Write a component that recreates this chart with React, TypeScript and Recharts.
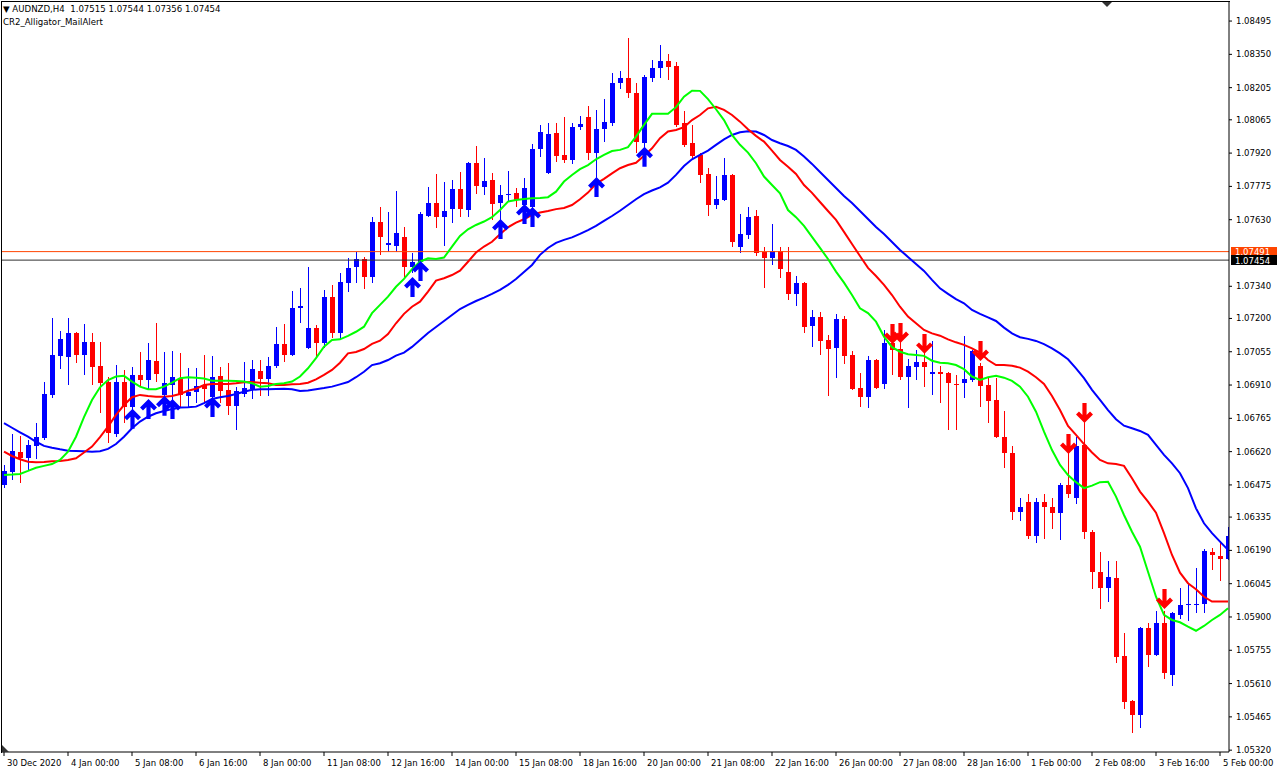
import { Bar, ComposedChart, Line, ReferenceLine, Scatter, XAxis, YAxis } from 'recharts';

/*
 * AUDNZD H4 com o Alligator (CR2_Alligator_MailAlert), estilo MT4.
 * Candles desenhados via Bar com range [low, high] e shape custom.
 */

const FONT = '"DejaVu Sans", sans-serif';
const BULL = '#0000ff';
const BEAR = '#ff0000';

const timeLabels: Array<[number, string]> = [
  [0, '30 Dec 2020'], [8, '4 Jan 00:00'], [16, '5 Jan 08:00'], [24, '6 Jan 16:00'],
  [32, '8 Jan 00:00'], [40, '11 Jan 08:00'], [48, '12 Jan 16:00'], [56, '14 Jan 00:00'],
  [64, '15 Jan 08:00'], [72, '18 Jan 16:00'], [80, '20 Jan 00:00'], [88, '21 Jan 08:00'],
  [96, '22 Jan 16:00'], [104, '26 Jan 00:00'], [112, '27 Jan 08:00'], [120, '28 Jan 16:00'],
  [128, '1 Feb 00:00'], [136, '2 Feb 08:00'], [144, '3 Feb 16:00'], [152, '5 Feb 00:00'],
];

const priceTicks = [
  1.08495, 1.0835, 1.08205, 1.08065, 1.0792, 1.07775, 1.0763, 1.0734, 1.072, 1.07055, 1.0691,
  1.06765, 1.0662, 1.06475, 1.06335, 1.0619, 1.06045, 1.059, 1.05755, 1.0561, 1.05465, 1.0532,
];

// [open, high, low, close]
const candles: Array<[number, number, number, number]> = [
  [1.06475, 1.06562, 1.06462, 1.06536], [1.06531, 1.06697, 1.06497, 1.06623], [1.06618, 1.06688, 1.06484, 1.06592],
  [1.06592, 1.06671, 1.0654, 1.06649], [1.06645, 1.06745, 1.06588, 1.06684], [1.06679, 1.06923, 1.06671, 1.06872],
  [1.06867, 1.07202, 1.06854, 1.07041], [1.07037, 1.07146, 1.0698, 1.07111], [1.07032, 1.07202, 1.0691, 1.07137],
  [1.07137, 1.07141, 1.07006, 1.07041], [1.07041, 1.07176, 1.06954, 1.07097], [1.07097, 1.07137, 1.0691, 1.06989],
  [1.06993, 1.07097, 1.06789, 1.06919], [1.06923, 1.06946, 1.06658, 1.06701], [1.06697, 1.06997, 1.06684, 1.06923],
  [1.06923, 1.06976, 1.06745, 1.06815], [1.06815, 1.06989, 1.06802, 1.06954], [1.06954, 1.07054, 1.06902, 1.06932],
  [1.06932, 1.07093, 1.06889, 1.07019], [1.07015, 1.0718, 1.06923, 1.06959], [1.06867, 1.07054, 1.0678, 1.06919],
  [1.0691, 1.07059, 1.06832, 1.06946], [1.06941, 1.0705, 1.0681, 1.06867], [1.06863, 1.06984, 1.06815, 1.0688],
  [1.0688, 1.06984, 1.06832, 1.06906], [1.0691, 1.07041, 1.06832, 1.06893], [1.06859, 1.07037, 1.06845, 1.06946],
  [1.0695, 1.06989, 1.06832, 1.06885], [1.06889, 1.07006, 1.0678, 1.06819], [1.06819, 1.06902, 1.06714, 1.06885],
  [1.06872, 1.0701, 1.06859, 1.06897], [1.06893, 1.07019, 1.0685, 1.0698], [1.06972, 1.07019, 1.06863, 1.06937],
  [1.06937, 1.07032, 1.06863, 1.06993], [1.06993, 1.07163, 1.06985, 1.07089], [1.07089, 1.07176, 1.0701, 1.07041],
  [1.07041, 1.0732, 1.07035, 1.07246], [1.07246, 1.07333, 1.0718, 1.07255], [1.07071, 1.07424, 1.07065, 1.07158],
  [1.07158, 1.07171, 1.07032, 1.07093], [1.07093, 1.07324, 1.07071, 1.07293], [1.07293, 1.07346, 1.07115, 1.07137],
  [1.07137, 1.07398, 1.07111, 1.07359], [1.07355, 1.07463, 1.07315, 1.0742], [1.07424, 1.07489, 1.07355, 1.07459],
  [1.07459, 1.07468, 1.07329, 1.07381], [1.07381, 1.07642, 1.07355, 1.0762], [1.0762, 1.07686, 1.07476, 1.07555],
  [1.0752, 1.07663, 1.07489, 1.07529], [1.07516, 1.07756, 1.07489, 1.07572], [1.07555, 1.07598, 1.07381, 1.07424],
  [1.07424, 1.07485, 1.07398, 1.07446], [1.07446, 1.07663, 1.07442, 1.07655], [1.07646, 1.07773, 1.07642, 1.07703],
  [1.07703, 1.0783, 1.07594, 1.07642], [1.07642, 1.07794, 1.07516, 1.07668], [1.07677, 1.07803, 1.07616, 1.07764],
  [1.07764, 1.07838, 1.07642, 1.07677], [1.07672, 1.07881, 1.07642, 1.07877], [1.07877, 1.07951, 1.07743, 1.07777],
  [1.07773, 1.07899, 1.07738, 1.07799], [1.07803, 1.07834, 1.07629, 1.07699], [1.07703, 1.07781, 1.07616, 1.07738],
  [1.07738, 1.07843, 1.07707, 1.07742], [1.07747, 1.07768, 1.07686, 1.07716], [1.07694, 1.07812, 1.07637, 1.07768],
  [1.07686, 1.0796, 1.07637, 1.07938], [1.07938, 1.08042, 1.07903, 1.08012], [1.07834, 1.08051, 1.0783, 1.08004],
  [1.08008, 1.08051, 1.07881, 1.07908], [1.07912, 1.08078, 1.07877, 1.0789], [1.0789, 1.08051, 1.07873, 1.08034],
  [1.08034, 1.08082, 1.08021, 1.08047], [1.08078, 1.08126, 1.0789, 1.07921], [1.07921, 1.08108, 1.07812, 1.08025],
  [1.08025, 1.08156, 1.07968, 1.08055], [1.08051, 1.08269, 1.08038, 1.08226], [1.08226, 1.08278, 1.082, 1.08247],
  [1.08247, 1.08421, 1.0816, 1.08182], [1.08182, 1.08226, 1.07921, 1.07968], [1.07964, 1.0826, 1.07934, 1.08252],
  [1.08247, 1.08326, 1.0823, 1.08291], [1.08291, 1.08391, 1.08247, 1.08322], [1.08322, 1.08352, 1.08239, 1.08295],
  [1.083, 1.08317, 1.08034, 1.08042], [1.08051, 1.08104, 1.07946, 1.07955], [1.07964, 1.08042, 1.0789, 1.07908],
  [1.07912, 1.07921, 1.0779, 1.07825], [1.0783, 1.07855, 1.07646, 1.07694], [1.07694, 1.07821, 1.07677, 1.07721],
  [1.07716, 1.07899, 1.07712, 1.07825], [1.07825, 1.07828, 1.07511, 1.07533], [1.07511, 1.07655, 1.07485, 1.07568],
  [1.07563, 1.07686, 1.07546, 1.07642], [1.07646, 1.07672, 1.07472, 1.07485], [1.07489, 1.07511, 1.07333, 1.07463],
  [1.07463, 1.07612, 1.07433, 1.07494], [1.07494, 1.07511, 1.07376, 1.07416], [1.07402, 1.07511, 1.07281, 1.07307],
  [1.07307, 1.07385, 1.07255, 1.07355], [1.07355, 1.07359, 1.07137, 1.07163], [1.07167, 1.07237, 1.07076, 1.07207],
  [1.07207, 1.07228, 1.07041, 1.07102], [1.07106, 1.07128, 1.06863, 1.07067], [1.07071, 1.0722, 1.06941, 1.07198],
  [1.07198, 1.07211, 1.07002, 1.07037], [1.07041, 1.07059, 1.06889, 1.06893], [1.06897, 1.06963, 1.06815, 1.06859],
  [1.06859, 1.07037, 1.0681, 1.07019], [1.07019, 1.07023, 1.06893, 1.06897], [1.06915, 1.0715, 1.06893, 1.07093],
  [1.07093, 1.07115, 1.06954, 1.07063], [1.07067, 1.07137, 1.06932, 1.06946], [1.06946, 1.07024, 1.0681, 1.06993],
  [1.06989, 1.07063, 1.06932, 1.0701], [1.0701, 1.07063, 1.06902, 1.06989], [1.06959, 1.07102, 1.06867, 1.06967],
  [1.06967, 1.06993, 1.06832, 1.06959], [1.06963, 1.06967, 1.06714, 1.06919], [1.06915, 1.06954, 1.06714, 1.0691],
  [1.06919, 1.07124, 1.06854, 1.06937], [1.06932, 1.07063, 1.06923, 1.07059], [1.06993, 1.07006, 1.06815, 1.06906],
  [1.0691, 1.06941, 1.06745, 1.06841], [1.06845, 1.06941, 1.06679, 1.06684], [1.06684, 1.06798, 1.06549, 1.06614],
  [1.06614, 1.06645, 1.06322, 1.06357], [1.06357, 1.06418, 1.06318, 1.0638], [1.06401, 1.06436, 1.0624, 1.06253],
  [1.06253, 1.06418, 1.06222, 1.06401], [1.06401, 1.06436, 1.0624, 1.0638], [1.0638, 1.06418, 1.06283, 1.06353],
  [1.06353, 1.06484, 1.06235, 1.06475], [1.06475, 1.06649, 1.06418, 1.06436], [1.06418, 1.06684, 1.06393, 1.06645],
  [1.06649, 1.06758, 1.0624, 1.0627], [1.0627, 1.06279, 1.06022, 1.06096], [1.06096, 1.06183, 1.05935, 1.06026],
  [1.06026, 1.06144, 1.05965, 1.06075], [1.06071, 1.06144, 1.057, 1.05726], [1.0573, 1.05831, 1.055, 1.0553],
  [1.05535, 1.05539, 1.05395, 1.05473], [1.05473, 1.05857, 1.05417, 1.05853], [1.05853, 1.05874, 1.05683, 1.05734],
  [1.05734, 1.05927, 1.0573, 1.05874], [1.05874, 1.05927, 1.0563, 1.05656], [1.05647, 1.05922, 1.056, 1.05918],
  [1.05909, 1.06026, 1.05891, 1.05952], [1.05952, 1.06048, 1.05883, 1.05957], [1.05952, 1.06114, 1.05918, 1.05957],
  [1.05957, 1.06196, 1.05918, 1.06188], [1.06183, 1.06201, 1.06105, 1.0617], [1.06166, 1.06231, 1.06057, 1.06153],
  [1.06153, 1.06292, 1.06148, 1.06253],
];

// linha azul (jaw)
const jaw = [
  1.06744, 1.06724, 1.06704, 1.06685, 1.06663, 1.06645, 1.06637, 1.0663, 1.06624, 1.06623,
  1.06622, 1.0662, 1.06622, 1.06632, 1.06653, 1.06685, 1.06722, 1.06751, 1.06772, 1.06787,
  1.06797, 1.06805, 1.06812, 1.06813, 1.06816, 1.06831, 1.06849, 1.06857, 1.06862, 1.06871,
  1.06881, 1.06889, 1.06892, 1.06892, 1.06893, 1.06894, 1.06892, 1.06884, 1.06886, 1.06892,
  1.06897, 1.06903, 1.06913, 1.06923, 1.06944, 1.06968, 1.06997, 1.07005, 1.07019, 1.07038,
  1.07051, 1.07076, 1.07106, 1.07137, 1.07163, 1.07189, 1.07215, 1.07241, 1.07259, 1.07276,
  1.07291, 1.07307, 1.07324, 1.07346, 1.07372, 1.07402, 1.07433, 1.07477, 1.07507, 1.07529,
  1.07542, 1.07553, 1.07568, 1.07585, 1.07603, 1.07625, 1.07646, 1.07669, 1.07694, 1.07719,
  1.07741, 1.07757, 1.07771, 1.07791, 1.07825, 1.07864, 1.07893, 1.07912, 1.07931, 1.07956,
  1.0798, 1.07999, 1.08011, 1.08015, 1.08014, 1.07999, 1.07977, 1.07963, 1.07951, 1.07934,
  1.07905, 1.07873, 1.07838, 1.07803, 1.07768, 1.07733, 1.07703, 1.07668, 1.07633, 1.07598,
  1.07568, 1.07533, 1.07498, 1.07468, 1.07437, 1.07407, 1.07368, 1.07331, 1.07307, 1.07284,
  1.07266, 1.07237, 1.0722, 1.07205, 1.07189, 1.0716, 1.07135, 1.07118, 1.07111, 1.07102,
  1.07088, 1.0707, 1.07048, 1.07022, 1.06983, 1.0694, 1.06889, 1.06845, 1.06801, 1.06761,
  1.06733, 1.06722, 1.0671, 1.06693, 1.06649, 1.06606, 1.06569, 1.06526, 1.06461, 1.06373,
  1.06308, 1.06265, 1.06228, 1.06192,
];

// linha vermelha (teeth)
const teeth = [
  1.0662, 1.06601, 1.06587, 1.06576, 1.06574, 1.06575, 1.06578, 1.06579, 1.06584, 1.06591,
  1.06616, 1.06642, 1.06683, 1.06729, 1.0678, 1.06823, 1.06857, 1.06867, 1.06862, 1.06859,
  1.06859, 1.06862, 1.06871, 1.06885, 1.06894, 1.0691, 1.06915, 1.06915, 1.06915, 1.06918,
  1.06922, 1.06923, 1.0692, 1.06918, 1.0691, 1.0691, 1.06913, 1.06915, 1.0692, 1.06935,
  1.06954, 1.06976, 1.07007, 1.07048, 1.07054, 1.07067, 1.07089, 1.07103, 1.07132, 1.07179,
  1.0722, 1.07251, 1.07273, 1.07317, 1.07365, 1.07375, 1.07389, 1.07408, 1.07447, 1.07487,
  1.07513, 1.07534, 1.07567, 1.07597, 1.07617, 1.07632, 1.07651, 1.07661, 1.07668, 1.07676,
  1.07681, 1.07694, 1.07719, 1.07748, 1.07786, 1.07808, 1.07832, 1.07854, 1.07868, 1.07878,
  1.07908, 1.07941, 1.07985, 1.08014, 1.08021, 1.08033, 1.08064, 1.08086, 1.08115, 1.08122,
  1.08108, 1.08086, 1.08057, 1.08024, 1.07995, 1.0797, 1.07931, 1.0789, 1.07861, 1.07829,
  1.07781, 1.07747, 1.07707, 1.07668, 1.07629, 1.07577, 1.07524, 1.07472, 1.0742, 1.07385,
  1.07346, 1.07302, 1.07251, 1.07208, 1.07179, 1.0715, 1.07135, 1.07125, 1.07109, 1.07096,
  1.07085, 1.0707, 1.07051, 1.07019, 1.06997, 1.06997, 1.06994, 1.06986, 1.06968, 1.06944,
  1.06915, 1.06862, 1.06801, 1.06732, 1.06693, 1.06653, 1.06616, 1.06584, 1.06569, 1.06566,
  1.06558, 1.06504, 1.06446, 1.06402, 1.06354, 1.06265, 1.0617, 1.06093, 1.06047, 1.06021,
  1.05988, 1.05967, 1.05967, 1.05967,
];

// linha verde (lips)
const lips = [
  1.06518, 1.0652, 1.06523, 1.06536, 1.0655, 1.06558, 1.06566, 1.06584, 1.0662, 1.06685,
  1.0677, 1.06845, 1.069, 1.06932, 1.06947, 1.0695, 1.06925, 1.06903, 1.06892, 1.06892,
  1.06903, 1.0692, 1.0694, 1.06944, 1.06942, 1.06938, 1.06929, 1.06929, 1.06929, 1.06928,
  1.06925, 1.06918, 1.06903, 1.06906, 1.06915, 1.06918, 1.06925, 1.06947, 1.06983, 1.07027,
  1.07077, 1.07106, 1.07109, 1.07124, 1.07142, 1.07164, 1.07223, 1.07259, 1.07295, 1.07338,
  1.07372, 1.07414, 1.07447, 1.07462, 1.07459, 1.07465, 1.07513, 1.07559, 1.07588, 1.07607,
  1.07622, 1.07641, 1.07672, 1.07709, 1.07716, 1.0772, 1.07723, 1.07725, 1.07728, 1.07752,
  1.07796, 1.07825, 1.0785, 1.07868, 1.07893, 1.07912, 1.07929, 1.07934, 1.07946, 1.07992,
  1.08043, 1.08091, 1.08091, 1.08091, 1.0812, 1.08166, 1.08192, 1.08191, 1.08155, 1.08111,
  1.08064, 1.07999, 1.07956, 1.07922, 1.07876, 1.07818, 1.07781, 1.07745, 1.07672, 1.07641,
  1.07603, 1.07555, 1.07507, 1.07459, 1.07404, 1.07356, 1.07302, 1.07244, 1.07223, 1.07186,
  1.07121, 1.07075, 1.07055, 1.07044, 1.07041, 1.07037, 1.07016, 1.07007, 1.07005, 1.06997,
  1.06979, 1.06947, 1.06932, 1.06944, 1.0695, 1.06942, 1.06928, 1.06903, 1.06859, 1.06794,
  1.06707, 1.06627, 1.06562, 1.06518, 1.06487, 1.06461, 1.06472, 1.06487, 1.06489, 1.06424,
  1.06344, 1.06271, 1.06206, 1.06097, 1.05988, 1.05909, 1.05887, 1.05877, 1.05858, 1.0584,
  1.05861, 1.05887, 1.05909, 1.05938,
];

// sinais: [índice do candle, preço da ponta da seta]
const upSignals: Array<[number, number]> = [
  [16, 1.06802], [18, 1.06845], [20, 1.06859], [21, 1.06845], [26, 1.06854], [51, 1.07376],
  [52, 1.07446], [62, 1.07629], [65, 1.07694], [66, 1.07681], [74, 1.07812], [80, 1.07943],
];
const downSignals: Array<[number, number]> = [
  [111, 1.07093], [112, 1.07097], [115, 1.0705], [122, 1.07019], [133, 1.06614], [135, 1.06749],
  [145, 1.05939],
];

const ASK = 1.07491;
const BID = 1.07454;

const rows = candles.map(([o, h, l, c], i) => ({
  i,
  o,
  h,
  l,
  c,
  range: [l, h],
  jaw: jaw[i],
  teeth: teeth[i],
  lips: lips[i],
}));
const upData = upSignals.map(([i, v]) => ({ i, v }));
const downData = downSignals.map(([i, v]) => ({ i, v }));

function Candle(props: any) {
  const { x, y, width, height, payload } = props;
  if (!payload || x == null || y == null) return null;
  const { o, h, l, c } = payload;
  const cx = Math.round(x + width / 2);
  const span = h - l;
  const yOf = (v: number) => (span > 0 ? y + ((h - v) / span) * height : y);
  const top = yOf(Math.max(o, c));
  const bot = yOf(Math.min(o, c));
  const color = c >= o ? BULL : BEAR;
  return (
    <g shapeRendering="crispEdges">
      <rect x={cx} y={y} width={1} height={Math.max(height, 1)} fill={color} />
      <rect x={cx - 2} y={top} width={5} height={Math.max(bot - top, 1)} fill={color} />
    </g>
  );
}

// seta tipo Wingdings 233/234 do MT4
function UpArrow(props: any) {
  const { cx, cy } = props;
  if (cx == null || cy == null) return null;
  const x = cx + 0.5;
  const d = `M${x - 7},${cy + 9} L${x},${cy + 2} L${x + 7},${cy + 9} M${x},${cy + 3} L${x},${cy + 19}`;
  return <path d={d} stroke={BULL} strokeWidth={4.2} fill="none" strokeLinejoin="miter" />;
}

function DownArrow(props: any) {
  const { cx, cy } = props;
  if (cx == null || cy == null) return null;
  const x = cx + 0.5;
  const d = `M${x - 7},${cy - 9} L${x},${cy - 2} L${x + 7},${cy - 9} M${x},${cy - 3} L${x},${cy - 19}`;
  return <path d={d} stroke={BEAR} strokeWidth={4.2} fill="none" strokeLinejoin="miter" />;
}

function TimeTick(props: any) {
  const { x, y, payload } = props;
  const label = timeLabels.find(([i]) => i === payload.value)?.[1] ?? '';
  return (
    <text x={x + 3} y={y + 8} fontSize={8.5} fontFamily={FONT} fill="#000" textAnchor="start">
      {label}
    </text>
  );
}

function PriceTag(props: any) {
  const { viewBox, text, bg } = props;
  if (!viewBox) return null;
  const left = viewBox.x + viewBox.width + 2;
  const y = viewBox.y;
  return (
    <g>
      <rect x={left} y={y - 5} width={46} height={10} fill={bg} shapeRendering="crispEdges" />
      <text x={left + 4} y={y + 3.5} fontSize={8.5} fontFamily={FONT} fill="#fff">
        {text}
      </text>
    </g>
  );
}

export default function App() {
  return (
    <div style={{ position: 'fixed', left: 0, top: 0, width: 1279, height: 774, background: '#fff' }}>
      <ComposedChart
        width={1279}
        height={774}
        data={rows}
        margin={{ top: 2, right: 0, bottom: 0, left: 2 }}
      >
        <XAxis
          dataKey="i"
          type="number"
          domain={[-0.25, 153.125]}
          allowDataOverflow
          ticks={timeLabels.map(([i]) => i)}
          interval={0}
          height={22}
          tickSize={4}
          tickMargin={2}
          stroke="#000"
          tick={(p: any) => <TimeTick {...p} />}
        />
        <YAxis
          orientation="right"
          width={50}
          domain={[1.05312, 1.08578]}
          allowDataOverflow
          ticks={priceTicks}
          interval={0}
          tickSize={3}
          tickMargin={4}
          stroke="#000"
          tick={{ fontSize: 8.5, fontFamily: FONT, fill: '#000' }}
          tickFormatter={(v: number) => v.toFixed(5)}
        />
        <ReferenceLine y={ASK} stroke="#ff4500" label={<PriceTag text="1.07491" bg="#ff4500" />} />
        <ReferenceLine y={BID} stroke="#303030" label={<PriceTag text="1.07454" bg="#000" />} />
        <Bar dataKey="range" barSize={5} shape={<Candle />} isAnimationActive={false} />
        <Line type="linear" dataKey="jaw" stroke="#0000ff" strokeWidth={2} dot={false} isAnimationActive={false} />
        <Line type="linear" dataKey="teeth" stroke="#ff0000" strokeWidth={2} dot={false} isAnimationActive={false} />
        <Line type="linear" dataKey="lips" stroke="#00ff00" strokeWidth={2} dot={false} isAnimationActive={false} />
        <Scatter data={upData} dataKey="v" shape={<UpArrow />} isAnimationActive={false} />
        <Scatter data={downData} dataKey="v" shape={<DownArrow />} isAnimationActive={false} />
      </ComposedChart>

      {/* moldura superior/esquerda do gráfico */}
      <div
        style={{
          position: 'absolute',
          left: 1,
          top: 1,
          width: 1228,
          height: 751,
          borderTop: '1px solid #000',
          borderLeft: '1px solid #000',
          pointerEvents: 'none',
        }}
      />
      <div
        style={{
          position: 'absolute',
          left: 3,
          top: 3,
          fontFamily: FONT,
          fontSize: 8.6,
          lineHeight: '13px',
          color: '#000',
          whiteSpace: 'pre',
        }}
      >
        <div>{'▼ AUDNZD,H4  1.07515 1.07544 1.07356 1.07454'}</div>
        <div>CR2_Alligator_MailAlert</div>
      </div>
      <svg style={{ position: 'absolute', left: 0, top: 0, pointerEvents: 'none' }} width={1279} height={774}>
        <polygon points="1102,2 1112,2 1107,7" fill="#333" />
        <polygon points="2,745 2,752 9,752" fill="#333" />
      </svg>
    </div>
  );
}
